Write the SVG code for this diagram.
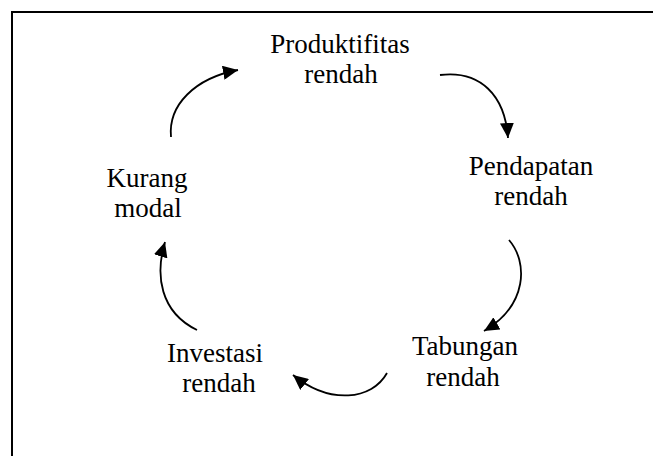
<svg xmlns="http://www.w3.org/2000/svg" width="653" height="456" viewBox="0 0 653 456">
<style>
.lbl{font-size:27px;fill:#000;text-anchor:middle}
.arc{fill:none;stroke:#000;stroke-width:1.8}
.frame{fill:none;stroke:#000;stroke-width:2}
</style>
<defs>
<marker id="ah" markerUnits="userSpaceOnUse" markerWidth="16" markerHeight="14" refX="15" refY="7" orient="auto">
<path d="M0,0 L15,7 L0,14 z" fill="#000"/>
</marker>
</defs>
<rect width="653" height="456" fill="#fff"/>
<path class="frame" d="M12,456 V12 H653"/>
<g id="produktifitas"><text class="lbl" font-family="Liberation Serif, Times New Roman, serif"><tspan x="340" y="53">Produktifitas</tspan><tspan x="341" y="83">rendah</tspan></text></g>
<g id="pendapatan"><text class="lbl" font-family="Liberation Serif, Times New Roman, serif"><tspan x="531" y="175">Pendapatan</tspan><tspan x="531" y="205">rendah</tspan></text></g>
<g id="tabungan"><text class="lbl" font-family="Liberation Serif, Times New Roman, serif"><tspan x="465" y="355">Tabungan</tspan><tspan x="463" y="386">rendah</tspan></text></g>
<g id="investasi"><text class="lbl" font-family="Liberation Serif, Times New Roman, serif"><tspan x="215" y="362">Investasi</tspan><tspan x="219" y="392">rendah</tspan></text></g>
<g id="kurang"><text class="lbl" font-family="Liberation Serif, Times New Roman, serif"><tspan x="147" y="187">Kurang</tspan><tspan x="148" y="217">modal</tspan></text></g>
<g id="connectors">
<path class="arc" marker-end="url(#ah)" d="M171,137 C168,105 195,78 238,70"/>
<path class="arc" marker-end="url(#ah)" d="M440,75 C480,70 505,95 508,138"/>
<path class="arc" marker-end="url(#ah)" d="M509,240 C528,262 528,305 484,331"/>
<path class="arc" marker-end="url(#ah)" d="M387,373 C372,400 330,405 293,375"/>
<path class="arc" marker-end="url(#ah)" d="M197,330 C160,312 155,275 165,242"/>
</g>
</svg>
